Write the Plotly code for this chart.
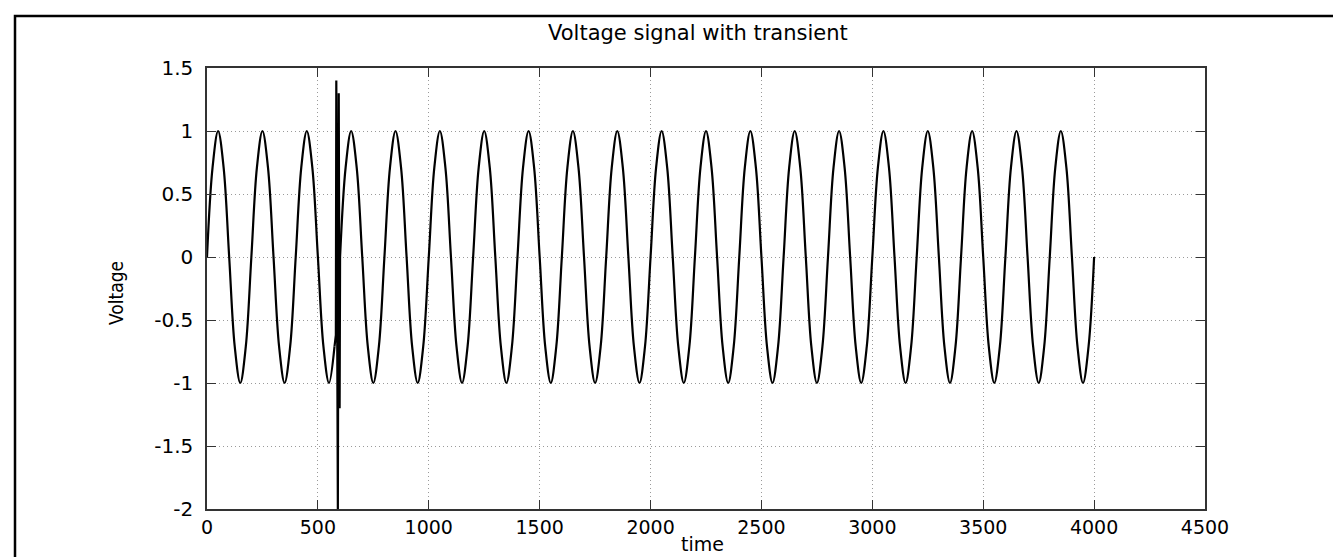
import plotly.graph_objects as go

# Voltage readings every 25 time units (steady sine part before the transient)
t_before = [0, 25, 50, 75, 100, 125, 150, 175, 200, 225, 250, 275, 300, 325, 350, 375,
            400, 425, 450, 475, 500, 525, 550, 575]
v_before = [0, 0.71, 1, 0.71, 0, -0.71, -1, -0.71, 0, 0.71, 1, 0.71, 0, -0.71, -1, -0.71,
            0, 0.71, 1, 0.71, 0, -0.71, -1, -0.71]

# Transient burst
t_trans = [575, 581, 583, 590, 594, 598, 600]
v_trans = [-0.71, -0.62, 1.4, -2.0, 1.3, -1.2, 0]

# Steady sine part after the transient (every 25 time units)
t_after = list(range(600, 4001, 25))
v_after = [0, 0.71, 1, 0.71, 0, -0.71, -1, -0.71,   # 600-775
           0, 0.71, 1, 0.71, 0, -0.71, -1, -0.71,   # 800-975
           0, 0.71, 1, 0.71, 0, -0.71, -1, -0.71,   # 1000
           0, 0.71, 1, 0.71, 0, -0.71, -1, -0.71,   # 1200
           0, 0.71, 1, 0.71, 0, -0.71, -1, -0.71,   # 1400
           0, 0.71, 1, 0.71, 0, -0.71, -1, -0.71,   # 1600
           0, 0.71, 1, 0.71, 0, -0.71, -1, -0.71,   # 1800
           0, 0.71, 1, 0.71, 0, -0.71, -1, -0.71,   # 2000
           0, 0.71, 1, 0.71, 0, -0.71, -1, -0.71,   # 2200
           0, 0.71, 1, 0.71, 0, -0.71, -1, -0.71,   # 2400
           0, 0.71, 1, 0.71, 0, -0.71, -1, -0.71,   # 2600
           0, 0.71, 1, 0.71, 0, -0.71, -1, -0.71,   # 2800
           0, 0.71, 1, 0.71, 0, -0.71, -1, -0.71,   # 3000
           0, 0.71, 1, 0.71, 0, -0.71, -1, -0.71,   # 3200
           0, 0.71, 1, 0.71, 0, -0.71, -1, -0.71,   # 3400
           0, 0.71, 1, 0.71, 0, -0.71, -1, -0.71,   # 3600
           0, 0.71, 1, 0.71, 0, -0.71, -1, -0.71,   # 3800
           0]                                        # 4000

x_ticks = [0, 500, 1000, 1500, 2000, 2500, 3000, 3500, 4000, 4500]
y_ticks = [-2, -1.5, -1, -0.5, 0, 0.5, 1, 1.5]
y_tick_text = ["-2", "-1.5", "-1", "-0.5", "0", "0.5", "1", "1.5"]

FONT = "DejaVu Sans, Liberation Sans, Arial, sans-serif"
NARROW = "Liberation Sans Narrow, DejaVu Sans Condensed, Arial Narrow, sans-serif"
line_style = dict(color="black", width=2.2)

fig = go.Figure()
fig.add_trace(go.Scatter(x=t_before, y=v_before, mode="lines",
                         line=dict(shape="spline", **line_style), showlegend=False))
fig.add_trace(go.Scatter(x=t_trans, y=v_trans, mode="lines",
                         line=dict(shape="linear", **line_style), showlegend=False))
fig.add_trace(go.Scatter(x=t_after, y=v_after, mode="lines",
                         line=dict(shape="spline", **line_style), showlegend=False))

axis_common = dict(
    showline=True, linecolor="#333", linewidth=1.5, mirror="ticks",
    ticks="inside", ticklen=9, tickcolor="#333", tickwidth=1,
    showgrid=True, gridcolor="#9a9a9a", griddash="1px,3px", gridwidth=1,
    zeroline=False,
)

fig.update_layout(
    width=1341, height=557,
    margin=dict(l=199, r=144, t=60, b=56),
    paper_bgcolor="white", plot_bgcolor="white",
    xaxis=dict(range=[0, 4500], tickvals=x_ticks, ticktext=[str(v) for v in x_ticks],
               ticklabelstandoff=0, tickfont=dict(family=FONT, size=19, color="black"),
               **axis_common),
    yaxis=dict(range=[-2, 1.5], tickvals=y_ticks, ticktext=y_tick_text,
               ticklabelstandoff=8, tickfont=dict(family=FONT, size=20, color="black"),
               **axis_common),
    annotations=[
        dict(text="Voltage signal with transient", xref="paper", yref="paper",
             x=0.492, y=(501 - 25) / 441, xanchor="center", yanchor="middle",
             showarrow=False, font=dict(family=FONT, size=21, color="black")),
        dict(text="time", xref="paper", yref="paper",
             x=0.496, y=(501 - 536) / 441, xanchor="center", yanchor="middle",
             showarrow=False, font=dict(family=FONT, size=19, color="black")),
        dict(text="Voltage", xref="paper", yref="paper", textangle=-90,
             x=(108 - 199) / 998, y=0.49, xanchor="center", yanchor="middle",
             showarrow=False, font=dict(family=NARROW, size=19, color="black")),
    ],
    shapes=[dict(type="rect", xref="paper", yref="paper",
                 x0=(7 - 199) / 998, x1=(1337 - 199) / 998,
                 y0=-0.3, y1=(501 - 8) / 441,
                 line=dict(color="black", width=2.5), fillcolor="rgba(0,0,0,0)",
                 layer="above")],
)

fig.write_html("out.html")
